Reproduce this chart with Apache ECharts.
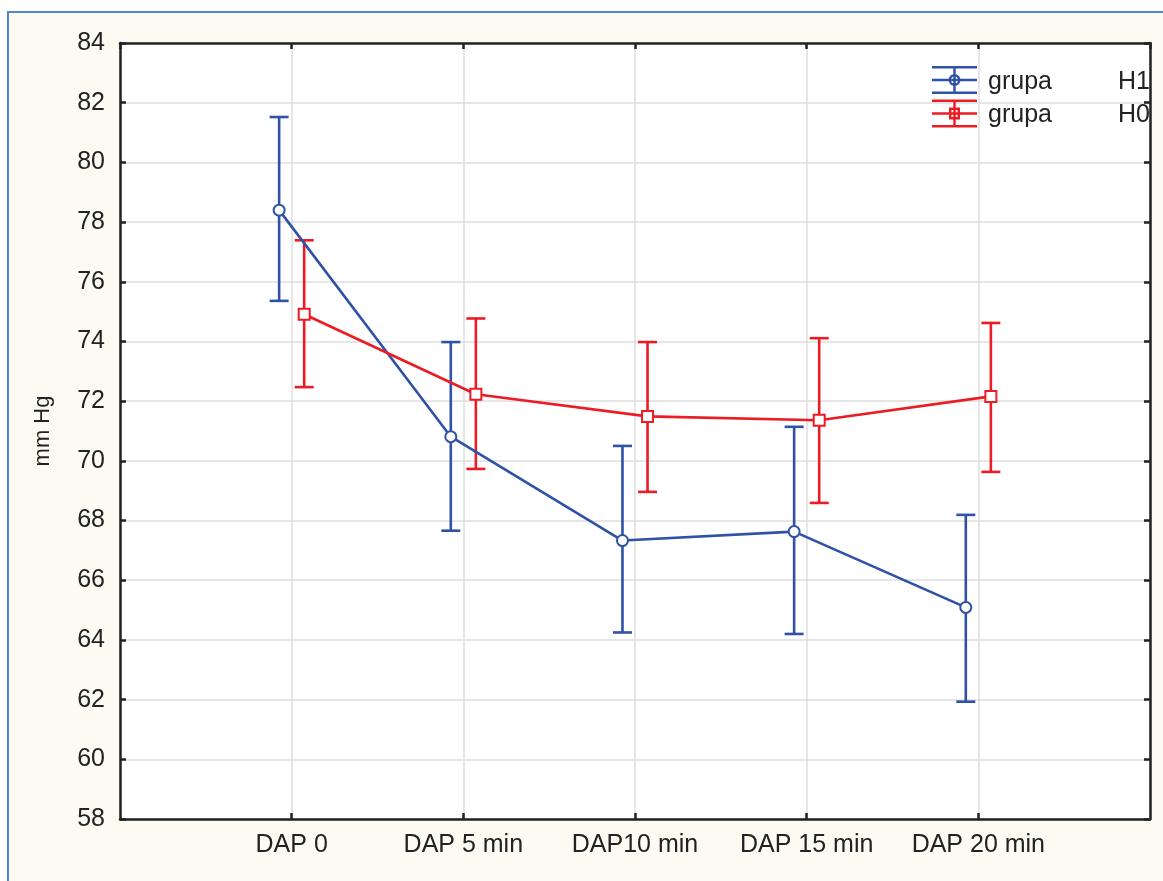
<!DOCTYPE html>
<html>
<head>
<meta charset="utf-8">
<title>DAP – grupa H1 / H0</title>
<script src="https://cdn.jsdelivr.net/npm/echarts@6/dist/echarts.min.js"></script>
<style>
  html, body { margin: 0; padding: 0; background: #ffffff; }
  #frame {
    position: absolute; left: 7px; top: 11px; width: 1200px; height: 900px;
    background: #fdfaf2; border-left: 2px solid #4f86cf; border-top: 2px solid #4f86cf;
  }
  #chart { position: absolute; left: 0; top: 0; width: 1163px; height: 881px; }
</style>
</head>
<body>
<div id="frame"></div>
<div id="chart"></div>
<script>
// Time points of diastolic pressure measurement
const categories = ['DAP 0', 'DAP 5 min', 'DAP10 min', 'DAP 15 min', 'DAP 20 min'];

// grupa H1: means with lower / upper limits (mm Hg)
const h1Mean  = [78.40, 70.81, 67.33, 67.63, 65.09];
const h1Lower = [75.36, 67.66, 64.25, 64.20, 61.93];
const h1Upper = [81.52, 73.98, 70.50, 71.14, 68.19];

// grupa H0: means with lower / upper limits (mm Hg)
const h0Mean  = [74.91, 72.23, 71.49, 71.36, 72.16];
const h0Lower = [72.47, 69.73, 68.96, 68.59, 69.63];
const h0Upper = [77.39, 74.77, 73.98, 74.11, 74.62];

const yTicks = { min: 58, max: 84, step: 2 };

const BLUE = '#2f52a6';
const RED = '#ec1c24';
const FONT = '"Liberation Sans", Arial, sans-serif';
const SHIFT = 0.073;   // horizontal dodge of the two groups around each time point
const CAP = 9.5;       // half width of error bar caps, px

function meanPoints(values, dx) {
  return values.map((v, i) => [i + 1 + dx, v]);
}
function barPoints(lower, upper, dx) {
  return lower.map((lo, i) => [i + 1 + dx, lo, upper[i]]);
}

function errorBarSeries(name, lower, upper, dx, color) {
  return {
    type: 'custom',
    name: name,
    data: barPoints(lower, upper, dx),
    encode: { x: 0, y: [1, 2] },
    z: 3,
    silent: true,
    renderItem: function (params, api) {
      const x = api.value(0);
      const lo = api.coord([x, api.value(1)]);
      const hi = api.coord([x, api.value(2)]);
      const style = { stroke: color, lineWidth: 2.6 };
      return {
        type: 'group',
        children: [
          { type: 'line', shape: { x1: lo[0], y1: lo[1], x2: hi[0], y2: hi[1] }, style: style },
          { type: 'line', shape: { x1: hi[0] - CAP, y1: hi[1], x2: hi[0] + CAP, y2: hi[1] }, style: style },
          { type: 'line', shape: { x1: lo[0] - CAP, y1: lo[1], x2: lo[0] + CAP, y2: lo[1] }, style: style }
        ]
      };
    }
  };
}

// Legend glyphs: three horizontal strokes, a vertical stroke and the marker outline
const BARS = 'M0 0H45V2.4H0Z M0 12.8H45V15.2H0Z M0 25.6H45V28H0Z M21.3 0H23.7V28H21.3Z ';
const ICON_H1 = 'path://' + BARS +
  'M16.5 14A6 6 0 1 1 28.5 14A6 6 0 1 1 16.5 14Z M18.9 14A3.6 3.6 0 1 0 26.1 14A3.6 3.6 0 1 0 18.9 14Z';
const ICON_H0 = 'path://' + BARS +
  'M17 8H28V20H17Z M19.4 10.4V17.6H25.6V10.4Z';

const chart = echarts.init(document.getElementById('chart'), null, { renderer: 'canvas' });

const axisLine = { show: true, onZero: false, lineStyle: { color: '#222222', width: 2.5 } };
const axisTick = { show: true, inside: true, length: 6, lineStyle: { color: '#222222', width: 2.5 } };
const gridLine = { show: true, lineStyle: { color: '#dedede', width: 1.5 } };

chart.setOption({
  backgroundColor: 'transparent',
  animation: false,
  textStyle: { fontFamily: FONT },
  grid: {
    left: 120, top: 43, right: 13, bottom: 62,
    show: true, backgroundColor: '#ffffff', borderWidth: 0
  },
  legend: {
    orient: 'vertical',
    left: 932, top: 66, padding: 0,
    itemWidth: 45, itemHeight: 28, itemGap: 5,
    selectedMode: false,
    data: [
      { name: 'H1', icon: ICON_H1, itemStyle: { color: BLUE, borderWidth: 0 } },
      { name: 'H0', icon: ICON_H0, itemStyle: { color: RED, borderWidth: 0 } }
    ],
    formatter: function (name) { return '{a|grupa}{b|' + name + '}'; },
    textStyle: {
      fontFamily: FONT, fontSize: 25, color: '#222222',
      rich: {
        a: { fontFamily: FONT, fontSize: 25, color: '#222222', width: 130, padding: [4, 0, 0, 6] },
        b: { fontFamily: FONT, fontSize: 25, color: '#222222', padding: [4, 0, 0, 0] }
      }
    }
  },
  xAxis: [
    {
      type: 'value', position: 'bottom', min: 0, max: 6, interval: 1,
      axisLine: axisLine, axisTick: axisTick, splitLine: gridLine,
      axisLabel: {
        margin: 14, fontSize: 25, color: '#222222', fontFamily: FONT,
        showMinLabel: false, showMaxLabel: false,
        formatter: function (v) { return categories[v - 1] || ''; }
      }
    },
    {
      type: 'value', position: 'top', min: 0, max: 6, interval: 1,
      axisLine: axisLine, axisTick: axisTick,
      splitLine: { show: false }, axisLabel: { show: false }
    }
  ],
  yAxis: [
    {
      type: 'value', position: 'left', min: yTicks.min, max: yTicks.max, interval: yTicks.step,
      name: 'mm Hg', nameLocation: 'middle', nameGap: 66, nameRotate: 90,
      nameTextStyle: { fontSize: 22, color: '#222222', fontFamily: FONT },
      axisLine: axisLine, axisTick: axisTick, splitLine: gridLine,
      axisLabel: { margin: 15, fontSize: 25, color: '#222222', fontFamily: FONT }
    },
    {
      type: 'value', position: 'right', min: yTicks.min, max: yTicks.max, interval: yTicks.step,
      axisLine: axisLine, axisTick: axisTick,
      splitLine: { show: false }, axisLabel: { show: false }
    }
  ],
  series: [
    errorBarSeries('H1 range', h1Lower, h1Upper, -SHIFT, BLUE),
    errorBarSeries('H0 range', h0Lower, h0Upper, SHIFT, RED),
    {
      type: 'line', name: 'H1', data: meanPoints(h1Mean, -SHIFT), z: 4,
      symbol: 'emptyCircle', symbolSize: 11, showAllSymbol: true,
      lineStyle: { color: BLUE, width: 2.6 },
      itemStyle: { color: BLUE, borderColor: BLUE, borderWidth: 2.4 }
    },
    {
      type: 'line', name: 'H0', data: meanPoints(h0Mean, SHIFT), z: 4,
      symbol: 'emptyRect', symbolSize: 11, showAllSymbol: true,
      lineStyle: { color: RED, width: 2.6 },
      itemStyle: { color: RED, borderColor: RED, borderWidth: 2.4 }
    }
  ]
});
</script>
</body>
</html>
